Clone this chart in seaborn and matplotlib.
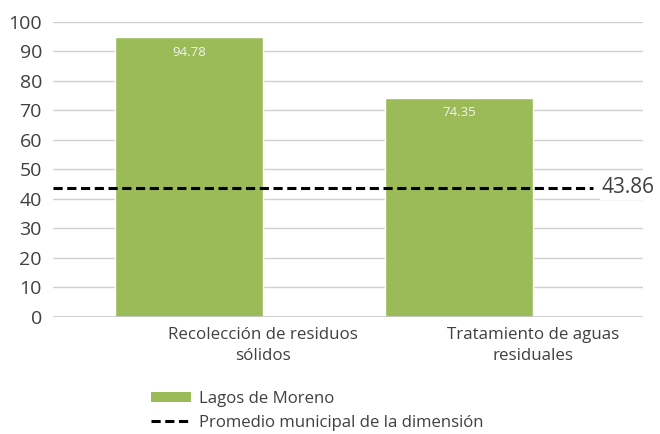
import matplotlib
matplotlib.use("Agg")
import matplotlib.pyplot as plt
import seaborn as sns
from matplotlib.patches import Patch
from matplotlib.lines import Line2D

categories = ["Recolección de residuos\nsólidos", "Tratamiento de aguas\nresiduales"]
values = [94.78, 74.35]
promedio = 43.86
serie = "Lagos de Moreno"
serie_prom = "Promedio municipal de la dimensión"

verde = "#9BBB59"
gris = "#404040"

sns.set_theme(style="white")
plt.rcParams["font.family"] = ["Open Sans", "DejaVu Sans"]

fig = plt.figure(figsize=(6.6, 4.34), dpi=100)
ax = fig.add_axes([0.0803, 0.2696, 0.894, 0.680])

sns.barplot(x=list(range(len(values))), y=values, color=verde, width=0.548,
            saturation=1, ax=ax, native_scale=True)

ax.set_xlim(-0.504, 1.681)
ax.set_ylim(0, 100)
ax.set_yticks(range(0, 101, 10))
ax.yaxis.grid(True, color="#d0d0d0", lw=1)
ax.set_axisbelow(True)
for s in ax.spines.values():
    s.set_visible(False)
ax.axhline(0, color="#c8c8c8", lw=1.2, zorder=1)

# etiquetas centradas en el borde derecho de cada barra, como en el original
ax.set_xticks([i + 0.274 for i in range(len(categories))])
ax.set_xticklabels(categories, fontsize=12.2, color=gris, linespacing=1.4)
ax.tick_params(axis="x", length=0, pad=7)
ax.tick_params(axis="y", length=0, pad=8, labelsize=14, labelcolor=gris)
ax.set_xlabel("")
ax.set_ylabel("")

for i, v in enumerate(values):
    ax.annotate(f"{v:.2f}", (i, v), xytext=(0, -11), textcoords="offset points",
                ha="center", va="center", fontsize=9.5, color="#f2f2f2")

ax.axhline(promedio, xmax=0.915, color="black", lw=2.2, dashes=(3, 1.5), zorder=3)
ax.text(0.930, promedio, f"{promedio:.2f}", transform=ax.get_yaxis_transform(),
        ha="left", va="center", fontsize=15, color=gris,
        bbox=dict(facecolor="white", edgecolor="none", pad=1.0))

handles = [Patch(facecolor=verde, edgecolor="none"),
           Line2D([0], [0], color="black", lw=2.2, dashes=(3, 1.5))]
fig.legend(handles, [serie, serie_prom], loc="upper left",
           bbox_to_anchor=(0.216, 0.118), frameon=False, fontsize=12.1,
           labelcolor=gris, handlelength=2.4, handleheight=0.5,
           handletextpad=0.45, labelspacing=0.45, borderpad=0)

fig.savefig("out.png", dpi=100)
